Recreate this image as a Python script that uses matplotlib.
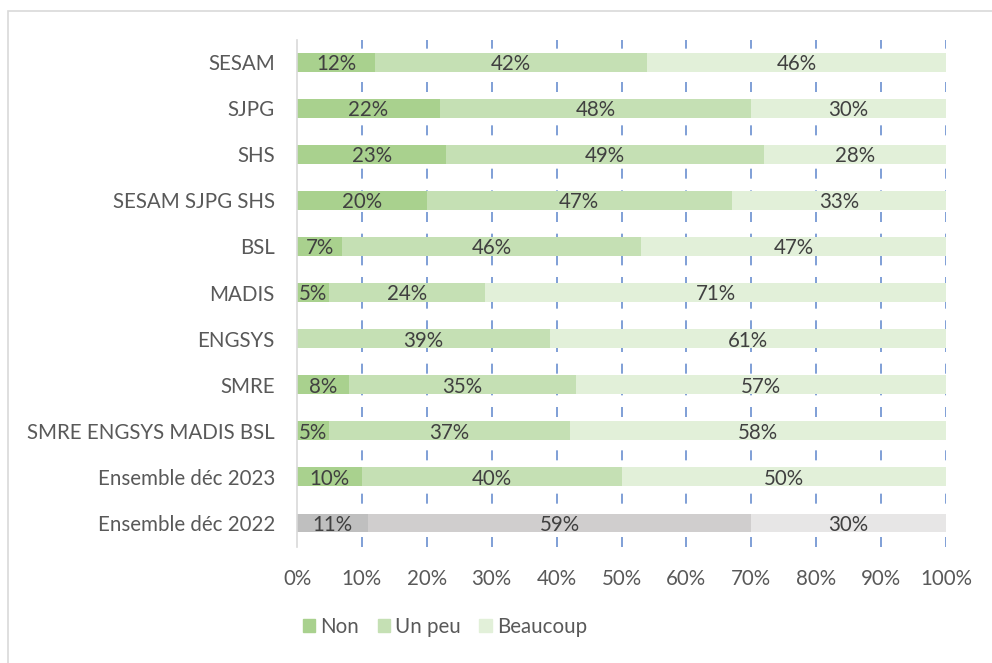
import matplotlib.pyplot as plt
import matplotlib.patches as mpatches
import numpy as np

plt.rcParams['font.family'] = ['Lato', 'DejaVu Sans']

# données
categories = ['SESAM', 'SJPG', 'SHS', 'SESAM SJPG SHS', 'BSL', 'MADIS', 'ENGSYS',
              'SMRE', 'SMRE ENGSYS MADIS BSL', 'Ensemble déc 2023', 'Ensemble déc 2022']
non = [12, 22, 23, 20, 7, 5, 0, 8, 5, 10, 11]
un_peu = [42, 48, 49, 47, 46, 24, 39, 35, 37, 40, 59]
beaucoup = [46, 30, 28, 33, 47, 71, 61, 57, 58, 50, 30]
series_names = ['Non', 'Un peu', 'Beaucoup']

green = ['#A9D18E', '#C5E0B4', '#E2F0D9']
grey = ['#BFBFBF', '#D0CECE', '#E7E6E6']
fs = 14.8

fig = plt.figure(figsize=(9.92, 6.63), dpi=100)
ax = fig.add_axes([297 / 992, 1 - 547 / 663, (946 - 297) / 992, (547 - 40) / 663])

# cadre du graphique
fig.patches.append(mpatches.Rectangle((8 / 992, -0.1), 1.2, 1 - 11 / 663 + 0.1,
                                      transform=fig.transFigure, fill=False,
                                      edgecolor='#D9D9D9', lw=1.2))

y = np.arange(len(categories))
values = [non, un_peu, beaucoup]
left = np.zeros(len(categories))
for k, vals in enumerate(values):
    vals = np.array(vals, dtype=float)
    colors = [grey[k] if ' 2022' in c else green[k] for c in categories]
    ax.barh(y, vals, left=left, height=0.41, color=colors, label=series_names[k], zorder=2)
    for i, v in enumerate(vals):
        if v > 0:
            ax.text(left[i] + v / 2, y[i] + 0.04, '%d%%' % v, ha='center', va='center',
                    fontsize=fs, color='#404040', zorder=3)
    left += vals

ax.set_xlim(0, 100)
ax.set_ylim(len(categories) - 0.48, -0.48)
ax.set_yticks(y)
ax.set_yticklabels(categories, fontsize=fs, color='#595959')
ax.set_xticks(np.arange(0, 101, 10))
ax.set_xticklabels(['%d%%' % t for t in range(0, 101, 10)], fontsize=fs, color='#595959')
ax.tick_params(axis='x', length=0, pad=16)
ax.tick_params(axis='y', length=0, pad=16)

for x in range(10, 101, 10):
    ax.axvline(x, color='#4472C4', lw=1.2, ls=(0, (6, 7)), alpha=0.8, zorder=1)

for s in ['top', 'right', 'bottom']:
    ax.spines[s].set_visible(False)
ax.spines['left'].set_color('#D9D9D9')
ax.spines['left'].set_linewidth(1.2)

handles = [mpatches.Patch(color=c) for c in green]
fig.legend(handles, series_names, loc='center', bbox_to_anchor=(445 / 992, 1 - 627 / 663),
           ncol=3, frameon=False, fontsize=fs, handlelength=0.6, handleheight=0.6,
           handletextpad=0.25, columnspacing=0.9, labelcolor='#595959')

fig.savefig('out.png', dpi=100)
